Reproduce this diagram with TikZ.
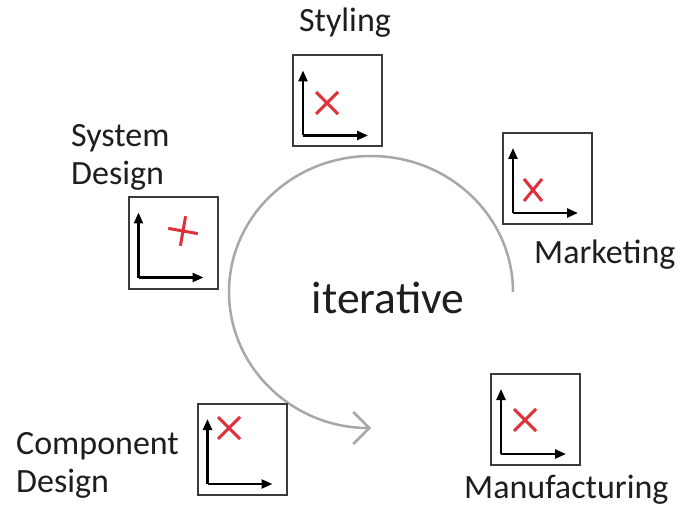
\documentclass[tikz,border=0pt]{standalone}
\usepackage{fontspec}
\setmainfont{Carlito}
\usetikzlibrary{arrows.meta,calc}
\definecolor{txt}{HTML}{1E1E1E}
\definecolor{xred}{HTML}{E0303A}
\definecolor{arcgray}{HTML}{A8A8A8}
\definecolor{boxgray}{HTML}{3A3A3A}
\tikzset{
  lbl/.style={inner sep=0pt, text=txt, font=\fontsize{34}{38}\selectfont, align=left},
  panel/.style={draw=boxgray, line width=2pt, minimum width=89pt, minimum height=91pt, inner sep=0pt},
  axis/.style={line width=2.4pt, black, -{Triangle[length=11pt,width=9pt]}},
  mark x/.style={draw=xred, line width=3pt},
}
\newcommand{\axesin}[1]{%
  \coordinate (#1-o) at ($(#1.south west)+(11,-12)$);
  \coordinate (#1-u) at ($(#1-o)+(0,-65)$);
  \coordinate (#1-r) at ($(#1-o)+(65,0)$);
  \draw[axis] (#1-o) -- (#1-u);
  \draw[axis] (#1-o) -- (#1-r);
}
\newcommand{\crossat}[3]{%
  \draw[mark x] ($(#1)+(-#2,-#3)$) -- ($(#1)+(#2,#3)$);
  \draw[mark x] ($(#1)+(-#2,#3)$) -- ($(#1)+(#2,-#3)$);
}
\begin{document}
\begin{tikzpicture}[x=1pt,y=-1pt]
\useasboundingbox (0,0) rectangle (678,508);
\fill[white] (0,0) rectangle (678,508);

% iterative arc
\coordinate (arcstart) at (513,292);
\draw[arcgray, line width=2.5pt, -{Straight Barb[length=16pt,width=32pt]}]
  (arcstart) arc[start angle=0, end angle=-270, x radius=142, y radius=136];

\node[lbl, font=\fontsize{45.5}{50}\selectfont, anchor=base] (iter) at (388,313) {iterative};

% panels
\node[panel] (sty) at (337.5,101) {};
\node[panel] (sys) at (173,243) {};
\node[panel] (mkt) at (547.5,178.5) {};
\node[panel] (cmp) at (242,449.5) {};
\node[panel] (man) at (535.5,419.5) {};

\axesin{sty}
\axesin{sys}
\axesin{mkt}
\axesin{cmp}
\axesin{man}

\crossat{327,103}{11}{11}
\crossat{533,190}{9}{11}
\crossat{229,428}{11}{11}
\crossat{525,420}{11}{11}
\begin{scope}[shift={(183,231)}, rotate=-10]
  \draw[mark x] (-15,0) -- (15,0);
  \draw[mark x] (0,-15) -- (0,15);
\end{scope}

% labels
\node[lbl, anchor=base] (lsty) at (345,32) {Styling};
\node[lbl, anchor=base west] (lsys) at (71,185) {System\\Design};
\node[lbl, anchor=base west] (lmkt) at (534,263) {Marketing};
\node[lbl, anchor=base west] (lcmp) at (16,492) {Component\\Design};
\node[lbl, anchor=base west] (lman) at (464,498) {Manufacturing};
\end{tikzpicture}
\end{document}
